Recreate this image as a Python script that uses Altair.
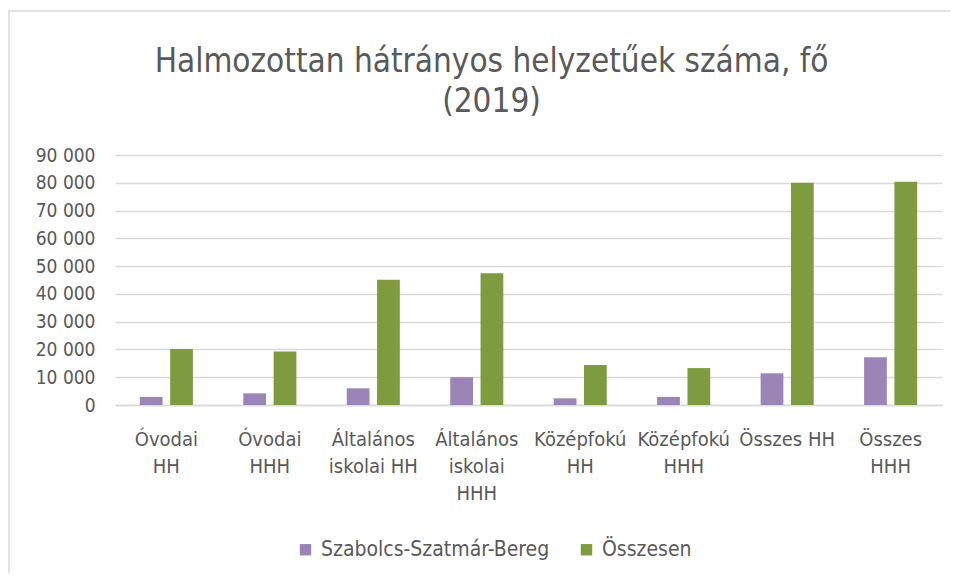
import json
import altair as alt
import pandas as pd

title_lines = ["Halmozottan hátrányos helyzetűek száma, fő", "(2019)"]
categories = ["Óvodai HH", "Óvodai HHH", "Általános iskolai HH", "Általános iskolai HHH",
              "Középfokú HH", "Középfokú HHH", "Összes HH", "Összes HHH"]
label_lines = [["Óvodai", "HH"], ["Óvodai", "HHH"], ["Általános", "iskolai HH"],
               ["Általános", "iskolai", "HHH"], ["Középfokú", "HH"], ["Középfokú", "HHH"],
               ["Összes HH"], ["Összes", "HHH"]]
series = ["Szabolcs-Szatmár-Bereg", "Összesen"]
szabolcs = [2900, 4200, 6000, 10000, 2400, 2900, 11400, 17200]
osszesen = [20200, 19300, 45100, 47400, 14400, 13300, 80000, 80400]
colors = ["#9A85B6", "#7E9C3F"]
y_ticks = [0, 10000, 20000, 30000, 40000, 50000, 60000, 70000, 80000, 90000]

rows = []
for i, c in enumerate(categories):
    rows.append({"cat": c, "series": series[0], "value": szabolcs[i]})
    rows.append({"cat": c, "series": series[1], "value": osszesen[i]})
df = pd.DataFrame(rows)

label_map = json.dumps(dict(zip(categories, label_lines)), ensure_ascii=False)

FONT = "Liberation Sans Narrow, DejaVu Sans Condensed, Roboto, sans-serif"
GREY = "#595959"

W, H = 827, 250
PL, PT, PR, PB = 107, 147, 8, 168

frame = alt.Chart(pd.DataFrame({"a": [0]})).mark_rect(
    fill=None, stroke="#d9d9d9", strokeWidth=1.5
).encode(
    x=alt.value(-106), x2=alt.value(W + 60),
    y=alt.value(-144), y2=alt.value(H + 220),
)

title_df = pd.DataFrame({"t": title_lines})
t1 = alt.Chart(title_df.iloc[[0]]).mark_text(
    font=FONT, fontSize=33, color=GREY, align="center", baseline="middle"
).encode(text="t:N", x=alt.value(W / 2 - 37), y=alt.value(-93))
t2 = alt.Chart(title_df.iloc[[1]]).mark_text(
    font=FONT, fontSize=33, color=GREY, align="center", baseline="middle"
).encode(text="t:N", x=alt.value(W / 2 - 37), y=alt.value(-53))

bars = alt.Chart(df).mark_bar().encode(
    x=alt.X("cat:N", sort=categories,
            scale=alt.Scale(paddingInner=0.487, paddingOuter=0.24),
            axis=alt.Axis(title=None, labelAngle=0, labelExpr=f"{label_map}[datum.label]",
                          labelFont=FONT, labelFontSize=20, labelColor=GREY,
                          labelPadding=24, labelLineHeight=27,
                          ticks=False, domainColor="#d9d9d9", domainWidth=1.5,
                          labelBaseline="top", labelLimit=200)),
    xOffset=alt.XOffset("series:N", sort=series, scale=alt.Scale(paddingInner=0.25)),
    y=alt.Y("value:Q", scale=alt.Scale(domain=[0, 90000], nice=False),
            axis=alt.Axis(title=None, values=y_ticks,
                          labelExpr="replace(format(datum.value, ','), ',', ' ')",
                          labelFont=FONT, labelFontSize=19, labelColor=GREY,
                          labelPadding=20, ticks=False, domain=False,
                          gridColor="#d9d9d9", gridWidth=1.5)),
    color=alt.Color("series:N", sort=series,
                    scale=alt.Scale(domain=series, range=colors),
                    legend=alt.Legend(title=None, orient="none", direction="horizontal",
                                      legendX=180, legendY=384, symbolType="square",
                                      symbolSize=130, symbolStrokeWidth=0,
                                      labelFont=FONT, labelFontSize=21, labelColor=GREY,
                                      labelLimit=400, columnPadding=26, labelOffset=5)),
)

chart = alt.layer(frame, t1, t2, bars).properties(
    width=W, height=H,
    padding={"left": PL, "top": PT, "right": PR, "bottom": PB},
    autosize=alt.AutoSizeParams(type="none"),
).configure_view(stroke=None)

chart.save("out.html", embed_options={"renderer": "svg", "actions": False})
